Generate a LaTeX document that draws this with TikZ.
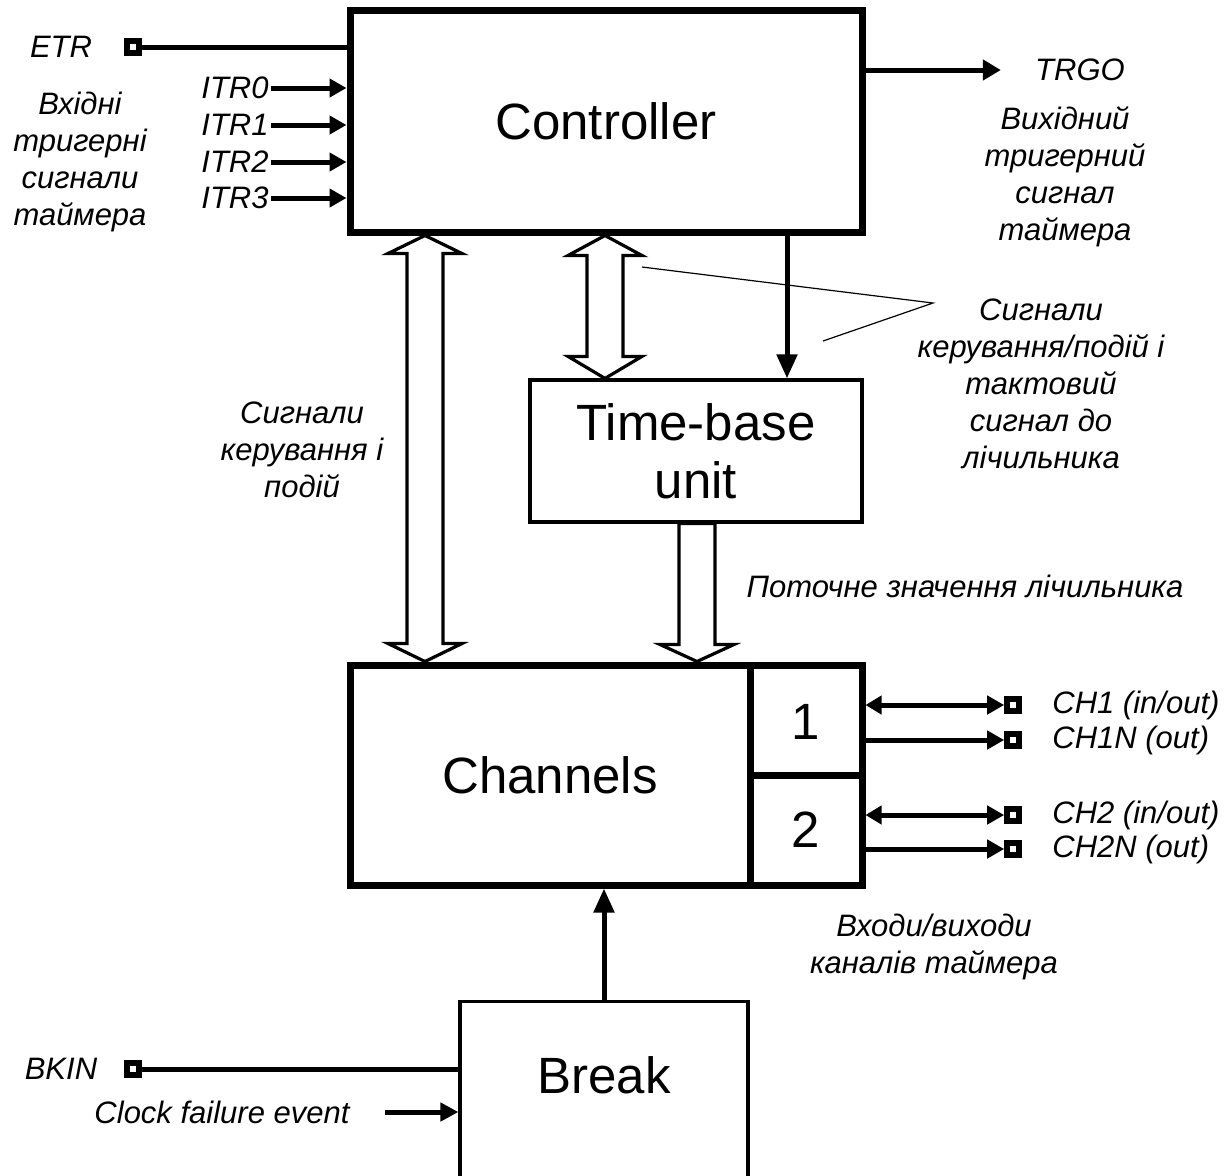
\documentclass[tikz,border=0pt]{standalone}
\usepackage{fontspec}
\setmainfont{Liberation Sans}
\usetikzlibrary{arrows.meta}
\usetikzlibrary{calc}
\usetikzlibrary{positioning}

\tikzset{
  thickbox/.style={draw, line width=3.5pt, inner sep=0pt},
  thinbox/.style={draw, line width=1.6pt, inner sep=0pt},
  big/.style={font=\fontsize{25.5}{29}\selectfont, align=center},
  lbl/.style={font=\fontsize{15.5}{18.5}\selectfont\itshape, align=center, inner sep=1pt},
  pin/.style={draw, fill=white, line width=2.8pt, minimum size=6pt, inner sep=0pt},
  sig/.style={line width=2.5pt, -{Triangle[length=8.5pt,width=9pt]}},
  bisig/.style={line width=2.5pt, {Triangle[length=8pt,width=9pt]}-{Triangle[length=8.5pt,width=9pt]}},
  wire/.style={line width=2.5pt},
  hollow/.style={draw, line width=1.6pt, fill=white, line join=miter},
}

\begin{document}
\begin{tikzpicture}[x=0.5pt, y=-0.5pt]
    \clip (0,0) rectangle (1232,1175);

    % blocks
    \node[thickbox, minimum width=256pt, minimum height=111pt] (ctl) at (606,121) {};
    \node[big] at (ctl.center) {Controller};
    \node[thinbox, minimum width=166pt, minimum height=71pt, big] (tbu) at (696,451) {Time-base\\unit};
    \node[thickbox, minimum width=256pt, minimum height=110pt] (chn) at (606,775) {};
    \node[big] (chntext) at (550,775) {Channels};
    \coordinate (div) at (750,0);
    \draw[line width=3.5pt] (div |- chn.north) -- (div |- chn.south);
    \draw[line width=3.5pt] (div |- chn.center) -- (chn.east);
    \node[big] (one) at (806,722) {1};
    \node[big] (two) at (806,830) {2};
    \node[thinbox, minimum width=144pt, minimum height=100pt, anchor=north] (brk) at (604,1000) {};
    \node[big] (brktext) at (604,1075) {Break};

    % hollow buses
    \coordinate (ev) at (425,0);
    \coordinate (tb) at (605,0);
    \coordinate (cnt) at (697,0);
    \coordinate (evt) at (ev |- ctl.south);
    \coordinate (evb) at (ev |- chn.north);
    \coordinate (tbt) at (tb |- ctl.south);
    \coordinate (tbb) at (tb |- tbu.north);
    \coordinate (cntt) at (cnt |- tbu.south);
    \coordinate (cntb) at (cnt |- chn.north);
    \draw[hollow] (evt) -- ++(37,18) -- ++(-19,0) -- ($(evb)+(18,-18)$) -- ++(19,0) -- (evb)
        -- ++(-37,-18) -- ++(19,0) -- ($(evt)+(-18,18)$) -- ++(-19,0) -- cycle;
    \draw[hollow] (tbt) -- ++(37,20) -- ++(-19,0) -- ($(tbb)+(18,-22)$) -- ++(19,0) -- (tbb)
        -- ++(-37,-22) -- ++(19,0) -- ($(tbt)+(-18,20)$) -- ++(-19,0) -- cycle;
    \draw[hollow] ($(cntt)+(-18,0)$) -- ($(cntt)+(18,0)$) -- ($(cntb)+(18,-17)$) -- ++(19,0) -- (cntb)
        -- ++(-37,-17) -- ++(19,0) -- cycle;

    % clock to time-base
    \coordinate (clk) at (787,0);
    \draw[line width=2.5pt, -{Triangle[length=12pt,width=10pt]}] (clk |- ctl.south) -- (clk |- tbu.north);

    % trigger inputs
    \node[lbl] (etr) at (61,47) {ETR};
    \node[pin] (etrpin) at (133,47) {};
    \draw[wire] (etrpin.east) -- (etrpin -| ctl.west);
    \foreach \i/\y in {0/88, 1/125, 2/162, 3/198} {
        \node[lbl, anchor=east] (itr\i) at (271,\y) {ITR\i};
        \draw[sig] (itr\i.east) -- (itr\i.east -| ctl.west);
    }
    \node[lbl] (trgin) at (80,162) {Вхідні\\тригерні\\сигнали\\таймера};

    % trigger output
    \node[lbl] (trgo) at (1080,70) {TRGO};
    \draw[line width=2.5pt, -{Triangle[length=9pt,width=10pt]}] (trgo -| ctl.east) -- ([xshift=-16pt]trgo.west);
    \node[lbl] (trgout) at (1065,177) {Вихідний\\тригерний\\сигнал\\таймера};

    % notes
    \coordinate (leadA) at (642,267);
    \coordinate (lead) at (933,303);
    \coordinate (leadB) at (823,341);
    \draw[line width=0.6pt] (leadA) -- (lead) -- (leadB);
    \node[lbl] (ctlsig) at (1041,384) {Сигнали\\керування/подій і\\тактовий\\сигнал до\\лічильника};
    \node[lbl] (evsig) at (302,450) {Сигнали\\керування і\\подій};
    \node[lbl] (cntval) at (965,586) {Поточне значення лічильника};
    \node[lbl] (chio) at (934,947) {Входи/виходи\\каналів таймера};

    % channel pins
    \foreach \n/\y/\t/\s in {a/705/CH1 (in\slash out)/bisig, b/740/CH1N (out)/sig,
                             c/815/CH2 (in\slash out)/bisig, d/849/CH2N (out)/sig} {
        \node[pin] (pin\n) at (1013,\y) {};
        \node[lbl, anchor=west] (ch\n) at (1050,\y) {\t};
        \draw[\s] (pin\n -| chn.east) -- (pin\n.west);
    }

    % break inputs
    \node[lbl] (bkin) at (61,1069) {BKIN};
    \node[pin] (bkinpin) at (133,1069) {};
    \draw[wire] (bkinpin.east) -- (bkinpin -| brk.west);
    \node[lbl] (cfe) at (222,1112) {Clock failure event};
    \coordinate (cfestart) at (385,1112);
    \draw[line width=2.5pt, -{Triangle[length=9pt,width=9pt]}] (cfestart) -- (cfestart -| brk.west);
    \draw[line width=2.5pt, -{Triangle[length=12pt,width=10pt]}] (brk.north) -- (brk.north |- chn.south);
\end{tikzpicture}
\end{document}
